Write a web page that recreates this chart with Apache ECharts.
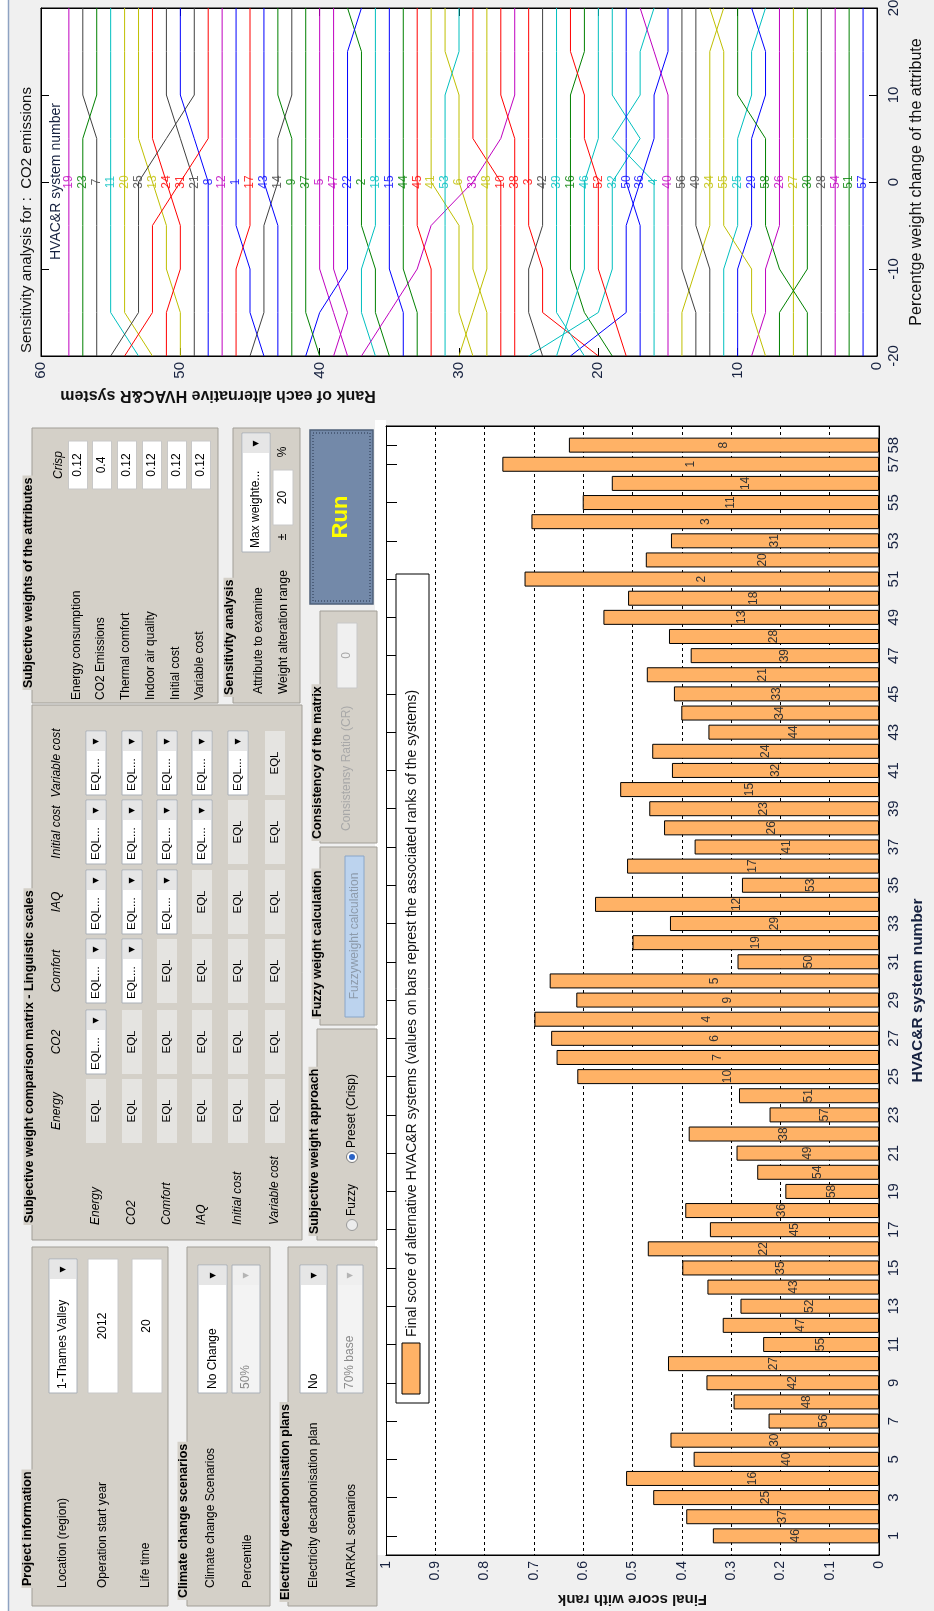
<!DOCTYPE html>
<html>
<head>
<meta charset="utf-8">
<script src="https://cdn.jsdelivr.net/npm/echarts@6.0.0/dist/echarts.min.js"></script>
<style>
  html, body { margin: 0; padding: 0; background: #f0f0f0; }
  #main { width: 934px; height: 1611px; }
</style>
</head>
<body>
<div id="main"></div>
<script>
// ---- data ----
const systemNumbers = [1,2,3,4,5,6,7,8,9,10,11,12,13,14,15,16,17,18,19,20,21,22,23,24,25,26,27,28,29,30,
  31,32,33,34,35,36,37,38,39,40,41,42,43,44,45,46,47,48,49,50,51,52,53,54,55,56,57,58];

// final score of each system (bar length)
const finalScores = [0.337,0.391,0.458,0.513,0.376,0.423,0.224,0.295,0.350,0.428,
  0.235,0.317,0.281,0.348,0.399,0.469,0.343,0.393,0.190,0.247,
  0.289,0.386,0.222,0.284,0.612,0.654,0.665,0.699,0.614,0.668,
  0.287,0.500,0.424,0.576,0.278,0.511,0.374,0.436,0.466,0.525,
  0.420,0.460,0.346,0.401,0.416,0.471,0.382,0.426,0.559,0.509,
  0.719,0.473,0.422,0.705,0.601,0.542,0.764,0.629];

// rank written on each bar
const rankOnBars = [46,37,25,16,40,30,56,48,42,27,55,47,52,43,35,22,45,36,58,54,
  49,38,57,51,10,7,6,4,9,5,50,19,29,12,53,17,41,26,23,15,
  32,24,44,34,33,21,39,28,13,18,2,20,31,3,11,14,1,8];

// sensitivity: weight change steps (%) and rank of each system at each step
const pctSteps = [-20, -15, -10, -5, 0, 5, 10, 15, 20];
const sensRanks = [
  [44,45,45,46,46,46,46,46,46], [35,36,36,37,37,37,37,37,38], [20,24,24,25,25,25,25,25,25],
  [16,16,16,16,16,19,17,17,16], [38,39,40,40,40,40,40,40,40], [28,28,29,29,30,30,30,31,31],
  [56,56,56,56,56,56,57,57,57], [48,48,48,48,48,49,50,50,50], [42,42,42,42,42,42,43,43,43],
  [27,27,27,27,27,29,29,29,29], [53,55,55,55,55,55,55,55,55], [47,47,47,47,47,47,47,47,47],
  [50,50,51,51,52,53,53,53,53], [45,44,44,44,43,43,42,42,42], [34,34,35,35,35,35,35,35,35],
  [19,21,22,22,22,22,22,21,21], [46,46,46,45,45,45,45,45,45], [36,37,37,36,36,36,36,36,36],
  [58,58,58,58,58,58,58,58,58], [52,54,54,54,54,54,54,54,54], [49,49,49,49,49,50,51,51,51],
  [41,40,38,38,38,38,38,38,37], [57,57,57,57,57,57,56,56,56], [51,51,50,50,51,52,52,52,52],
  [11,11,11,10,10,10,9,9,8],    [9,8,8,7,7,7,7,7,7],          [6,6,6,6,6,6,6,6,6],
  [4,4,4,4,4,4,4,4,4],          [10,10,10,9,9,9,8,8,9],       [7,7,5,5,5,5,5,5,5],
  [54,52,52,52,50,48,48,48,48], [25,20,19,19,19,17,19,19,19], [37,35,33,32,29,27,26,26,26],
  [14,14,13,12,12,12,12,12,11], [55,53,53,53,53,51,49,49,49], [22,18,18,18,17,16,16,15,15],
  [40,41,41,41,41,41,41,41,41], [26,26,26,26,26,26,27,27,27], [21,23,23,23,23,23,23,23,23],
  [15,15,15,15,15,15,15,16,17], [29,30,30,30,32,32,32,32,32], [24,25,25,24,24,24,24,24,24],
  [43,43,43,43,44,44,44,44,44], [33,33,34,34,34,34,34,34,34], [32,32,32,33,33,33,33,33,33],
  [23,22,21,21,21,20,20,20,20], [39,38,39,39,39,39,39,39,39], [30,29,28,28,28,28,28,28,28],
  [12,12,12,13,13,13,13,13,13], [17,17,17,17,18,18,18,18,18], [2,2,2,2,2,2,2,2,2],
  [18,19,20,20,20,21,21,22,22], [31,31,31,31,31,31,31,30,30], [3,3,3,3,3,3,3,3,3],
  [8,9,9,11,11,11,11,11,12],    [13,13,14,14,14,14,14,14,14], [1,1,1,1,1,1,1,1,1],
  [5,5,7,8,8,8,10,10,10]
];
const lineColors = ['#0000ff', '#008000', '#ff0000', '#00bfbf', '#bf00bf', '#bfbf00', '#404040'];

// GUI texts
const matrixNames = ['Energy', 'CO2', 'Comfort', 'IAQ', 'Initial cost', 'Variable cost'];
const weightNames = ['Energy consumption', 'CO2 Emissions', 'Thermal comfort', 'Indoor air quality', 'Initial cost', 'Variable cost'];
const crispWeights = ['0.12', '0.4', '0.12', '0.12', '0.12', '0.12'];

// ---- helpers ----
const FONT = '"Liberation Sans", Arial, sans-serif';
const INK = '#16213f';
const H = 1611;
const PANEL = '#d4d0c8';
function f(size, style) { return (style ? style + ' ' : '') + size + 'px ' + FONT; }

// everything below is given in picture coordinates, drawn in a group turned 90 deg
function box(x1, y1, x2, y2, style, z) {
  return { type: 'rect', z: z || 1, shape: { x: H - y2, y: x1, width: y2 - y1, height: x2 - x1 }, style: style };
}
function txt(x, y, text, opt, z) {
  const st = Object.assign({ text: text, fill: '#000', font: f(12), align: 'left', verticalAlign: 'middle' }, opt || {});
  st.textAlign = st.align; st.textVerticalAlign = st.verticalAlign;
  return { type: 'text', z: z || 3, x: H - y, y: x, style: st };
}
function circ(x, y, r, style, z) {
  return { type: 'circle', z: z || 2, shape: { cx: H - y, cy: x, r: r }, style: style };
}
function panel(x1, y1, x2, y2, title, tx, ty) {
  return [
    box(x1, y1, x2, y2, { fill: PANEL, stroke: '#a19e97', lineWidth: 1 }),
    txt(tx, ty, title, { font: f(12.5, 'bold'), backgroundColor: PANEL, padding: [0, 2] })
  ];
}
function dropdown(x1, y1, x2, y2, text, enabled, fs) {
  const xc = (x1 + x2) / 2;
  return [
    box(x1, y1, x2, y2, { fill: enabled ? '#fff' : '#f3f3f3', stroke: '#aab0b8', lineWidth: 1 }, 2),
    box(x1 + 1, y1 + 1, x2 - 1, y1 + 20, { fill: enabled ? '#e6e6e6' : '#efefef' }, 2),
    txt(xc, y1 + 10.5, '\u25BC', { font: '8px "DejaVu Sans"', align: 'center', fill: enabled ? '#000' : '#b4b4b4' }),
    txt(xc, y2 - 4, text, { font: f(fs || 12), fill: enabled ? '#000' : '#8a8a8a' })
  ];
}
function edit(x1, y1, x2, y2, text, enabled) {
  return [
    box(x1, y1, x2, y2, { fill: enabled === false ? '#f0f0f0' : '#fff', stroke: '#c8c8c8', lineWidth: 1 }, 2),
    txt((x1 + x2) / 2, (y1 + y2) / 2, text, { align: 'center', fill: enabled === false ? '#a8a8a8' : '#000' })
  ];
}

// ---- GUI panels ----
let gui = [];
// Subjective weights
gui = gui.concat(panel(32, 428, 218, 703, 'Subjective weights of the attributes', 29, 690));
gui.push(txt(59, 465, 'Crisp', { font: f(12, 'italic'), align: 'center' }));
const wRows = [78, 102, 127, 152, 177, 201];
wRows.forEach((wx, i) => {
  gui.push(txt(wx - 1, 700, weightNames[i]));
  gui = gui.concat(edit(wx - 9.5, 441, wx + 9.5, 489, crispWeights[i]));
});
// Sensitivity analysis
gui = gui.concat(panel(233, 428, 300, 703, 'Sensitivity analysis', 230, 697));
gui.push(txt(259, 694, 'Attribute to examine'));
gui = gui.concat(dropdown(242, 433, 270, 552, 'Max weighte...', true));
gui.push(txt(284, 694, 'Weight alteration range'));
gui.push(txt(283, 537, '\u00B1', { align: 'center' }));
gui = gui.concat(edit(273, 470, 293, 525, '20'));
gui.push(txt(283, 452, '%', { align: 'center' }));
// Run button
gui.push(box(310, 430, 373, 604, { fill: '#7389a9', stroke: '#4d5f78', lineWidth: 1.5 }));
gui.push(box(313, 433, 370, 601, { fill: 'none', stroke: '#26324a', lineWidth: 1, lineDash: [1, 2] }, 2));
gui.push(txt(341, 517, 'Run', { font: f(22, 'bold'), fill: '#ffff00', align: 'center' }));
// Consistency
gui = gui.concat(panel(320, 611, 377, 843, 'Consistency of the matrix', 318, 841));
gui.push(txt(347, 831, 'Consistensy Ratio (CR)', { fill: '#a8a8a8' }));
gui = gui.concat(edit(337, 623, 357, 688, '0', false));
// Fuzzy weight calculation
gui = gui.concat(panel(320, 847, 377, 1025, 'Fuzzy weight calculation', 318, 1019));
gui.push(box(345, 856, 364, 1017, { fill: '#bcd3ee', stroke: '#8aa6c8', lineWidth: 1 }, 2));
gui.push(txt(354.5, 936, 'Fuzzyweight calculation', { fill: '#8d9bab', align: 'center' }));
// Subjective weight approach
gui = gui.concat(panel(317, 1029, 377, 1240, 'Subjective weight approach', 315, 1236));
gui.push(circ(352, 1225, 5.5, { fill: '#ececec', stroke: '#9a9a9a', lineWidth: 1 }));
gui.push(txt(352, 1216, 'Fuzzy'));
gui.push(circ(352, 1157, 5.5, { fill: '#fff', stroke: '#7a7a7a', lineWidth: 1 }));
gui.push(circ(352, 1157, 3, { fill: '#2b63c6' }, 3));
gui.push(txt(352, 1148, 'Preset (Crisp)'));
// Comparison matrix
gui = gui.concat(panel(32, 705, 302, 1240, 'Subjective weight comparison matrix - Linguistic scales', 30, 1225));
const colY = [1111, 1042, 971, 902, 832, 763];
const rowX = [96, 132, 167, 202, 238, 275];
colY.forEach((cy, c) => gui.push(txt(57, cy, matrixNames[c], { font: f(12, 'italic'), align: 'center' })));
rowX.forEach((rx, r) => {
  gui.push(txt(rx, 1225, matrixNames[r], { font: f(12, 'italic') }));
  colY.forEach((cy, c) => {
    if (c > r) {
      gui = gui.concat(dropdown(rx - 10, cy - 32, rx + 10, cy + 32, 'EQL...', true, 11.5));
    } else {
      gui.push(box(rx - 10, cy - 32, rx + 10, cy + 32, { fill: '#e5e4e1' }, 2));
      gui.push(txt(rx, cy, 'EQL', { align: 'center', font: f(11.5) }));
    }
  });
});
// Project information
gui = gui.concat(panel(32, 1247, 168, 1606, 'Project information', 28, 1588));
gui.push(txt(63, 1588, 'Location (region)'));
gui = gui.concat(dropdown(49, 1259, 77, 1393, '1-Thames Valley', true));
gui.push(txt(103, 1588, 'Operation start year'));
gui = gui.concat(edit(88, 1259, 118, 1393, '2012'));
gui.push(txt(146, 1588, 'Life time'));
gui = gui.concat(edit(132, 1259, 162, 1393, '20'));
// Climate change scenarios
gui = gui.concat(panel(187, 1247, 270, 1606, 'Climate change scenarios', 184, 1600));
gui.push(txt(211, 1588, 'Climate change Scenarios'));
gui = gui.concat(dropdown(198, 1265, 227, 1393, 'No Change', true));
gui.push(txt(248, 1588, 'Percentile'));
gui = gui.concat(dropdown(232, 1265, 260, 1393, '50%', false));
// Electricity decarbonisation plans
gui = gui.concat(panel(288, 1247, 377, 1606, 'Electricity decarbonisation plans', 286, 1602));
gui.push(txt(314, 1588, 'Electricity decarbonisation plan'));
gui = gui.concat(dropdown(300, 1265, 327, 1393, 'No', true));
gui.push(txt(352, 1588, 'MARKAL scenarios'));
gui = gui.concat(dropdown(337, 1265, 363, 1393, '70% base', false));

// texts lying on the charts (legend of bar chart, titles of sensitivity plot)
const overlay = [
  box(396, 574, 429, 1403, { fill: '#fff', stroke: '#000', lineWidth: 1 }, 60),
  box(402, 1343, 420, 1394, { fill: '#ffb266', stroke: '#000', lineWidth: 1 }, 61),
  txt(412.5, 1337, 'Final score of alternative HVAC&R systems (values on bars represt the associated ranks of the systems)',
      { font: f(14), fill: '#111' }, 62),
  txt(27, 353, 'Sensitivity analysis for :  CO2 emissions', { font: f(15), fill: '#111' }, 62),
  txt(56, 260, 'HVAC&R system number', { font: f(14), fill: INK }, 62)
];

// ---- chart ----
const chart = echarts.init(document.getElementById('main'));

const slotLabels = [''].concat(systemNumbers.map(String)).concat(['']);
const showCat = (idx, val) => { const n = +val; return n > 0 && (n % 2 === 1 || n === 58); };
const barData = ['-'].concat(finalScores).concat(['-']);

const axisBase = {
  axisLine: { show: true, onZero: false, lineStyle: { color: '#000', width: 1 } },
  splitLine: { show: false }
};

const lineSeries = sensRanks.map((ranks, i) => ({
  type: 'line', xAxisIndex: 0, yAxisIndex: 0, symbol: 'none', silent: true, z: 3,
  data: ranks.map((r, j) => [r, pctSteps[j]]),
  lineStyle: { color: lineColors[i % 7], width: 1 },
  itemStyle: { color: lineColors[i % 7] }
}));

const option = {
  backgroundColor: '#f0f0f0',
  animation: false,
  textStyle: { fontFamily: FONT },
  grid: [
    { left: 41, right: 57, top: 8, bottom: 1255, show: true, backgroundColor: '#fff', borderColor: '#000', borderWidth: 1, outerBoundsMode: 'none' },
    { left: 386, right: 55, top: 426, bottom: 56, show: true, backgroundColor: '#fff', borderColor: '#000', borderWidth: 1, outerBoundsMode: 'none' }
  ],
  xAxis: [
    Object.assign({}, axisBase, {
      gridIndex: 0, type: 'value', min: 0, max: 60, interval: 10, inverse: true, position: 'bottom',
      axisTick: { inside: true, length: 8, lineStyle: { color: '#000' } },
      axisLabel: { rotate: 90, margin: 6, fontSize: 15, color: INK, hideOverlap: false }
    }),
    Object.assign({}, axisBase, {
      gridIndex: 0, type: 'value', min: 0, max: 60, interval: 10, inverse: true, position: 'top',
      axisTick: { inside: true, length: 8, lineStyle: { color: '#000' } }, axisLabel: { show: false }
    }),
    Object.assign({}, axisBase, {
      gridIndex: 1, type: 'value', min: 0, max: 1, interval: 0.1, inverse: true, position: 'bottom',
      axisTick: { inside: true, length: 11, lineStyle: { color: '#000' } },
      axisLabel: { rotate: 90, margin: 6, fontSize: 14, color: INK, hideOverlap: false,
        formatter: v => (v === 0 ? '0' : v === 1 ? '1' : v.toFixed(1)) },
      splitLine: { show: true, lineStyle: { color: '#000', width: 1, type: [3, 3] } },
      name: 'Final score with rank', nameLocation: 'middle', nameRotate: 180, nameGap: 37,
      nameTextStyle: { fontWeight: 'bold', fontSize: 15, color: '#111' }
    }),
    Object.assign({}, axisBase, {
      gridIndex: 1, type: 'value', min: 0, max: 1, interval: 0.1, inverse: true, position: 'top',
      axisTick: { inside: true, length: 11, lineStyle: { color: '#000' } }, axisLabel: { show: false }
    })
  ],
  yAxis: [
    Object.assign({}, axisBase, {
      gridIndex: 0, type: 'value', min: -20, max: 20, interval: 10, position: 'right',
      axisTick: { inside: true, length: 8, lineStyle: { color: '#000' } },
      axisLabel: { rotate: 90, margin: 9, fontSize: 15, color: INK, hideOverlap: false },
      name: 'Percentge weight change of the attribute', nameLocation: 'middle', nameRotate: 90, nameGap: 29,
      nameTextStyle: { fontSize: 16, color: '#111' }
    }),
    Object.assign({}, axisBase, {
      gridIndex: 0, type: 'value', min: -20, max: 20, interval: 10, position: 'left',
      axisTick: { inside: true, length: 8, lineStyle: { color: '#000' } }, axisLabel: { show: false }
    }),
    Object.assign({}, axisBase, {
      gridIndex: 1, type: 'category', data: slotLabels, boundaryGap: false, position: 'right',
      axisTick: { inside: true, length: 11, interval: showCat, lineStyle: { color: '#000' } },
      axisLabel: { rotate: 90, margin: 7, fontSize: 15, color: INK, interval: showCat, hideOverlap: false },
      name: 'HVAC&R system number', nameLocation: 'middle', nameRotate: 90, nameGap: 31,
      nameTextStyle: { fontWeight: 'bold', fontSize: 15.5, color: INK }
    }),
    Object.assign({}, axisBase, {
      gridIndex: 1, type: 'category', data: slotLabels, boundaryGap: false, position: 'left',
      axisTick: { inside: true, length: 11, interval: showCat, lineStyle: { color: '#000' } }, axisLabel: { show: false }
    })
  ],
  series: lineSeries.concat([
    {
      type: 'scatter', xAxisIndex: 0, yAxisIndex: 0, symbolSize: 1, silent: true, z: 6,
      itemStyle: { color: 'rgba(0,0,0,0)' },
      data: systemNumbers.map((s, i) => ({ value: [sensRanks[i][4], 0], label: { color: lineColors[i % 7] } })),
      label: { show: true, position: 'inside', rotate: 90, fontSize: 12, fontFamily: FONT,
        formatter: p => String(systemNumbers[p.dataIndex]) }
    },
    {
      type: 'bar', xAxisIndex: 2, yAxisIndex: 2, barWidth: 15, silent: true, z: 4,
      data: barData,
      itemStyle: { color: '#ffb266', borderColor: '#000', borderWidth: 1 },
      label: { show: true, position: 'inside', rotate: 90, fontSize: 12, color: '#333', textBorderWidth: 0,
        formatter: p => String(rankOnBars[p.dataIndex - 1]) }
    }
  ]),
  graphic: [
    { type: 'rect', z: 0, shape: { x: 0, y: 0, width: 8, height: 1611 }, style: { fill: '#fff' } },
    { type: 'line', z: 0, shape: { x1: 8.5, y1: 0, x2: 8.5, y2: 1611 }, style: { stroke: '#8ea2c2', lineWidth: 1.5 } },
    { type: 'rect', z: 0, shape: { x: 375, y: 420, width: 11, height: 1135 }, style: { fill: '#fff' } },
    { type: 'group', x: 0, y: H, rotation: Math.PI / 2, children: gui },
    { type: 'group', x: 0, y: H, rotation: Math.PI / 2, z: 60, children: overlay },
    { type: 'text', z: 62, x: 218, y: 395, rotation: Math.PI,
      style: { text: 'Rank of each alternative HVAC&R system', font: f(16, 'bold'), fill: '#111',
        align: 'center', verticalAlign: 'middle', textAlign: 'center', textVerticalAlign: 'middle' } }
  ]
};
chart.setOption(option);
</script>
</body>
</html>
